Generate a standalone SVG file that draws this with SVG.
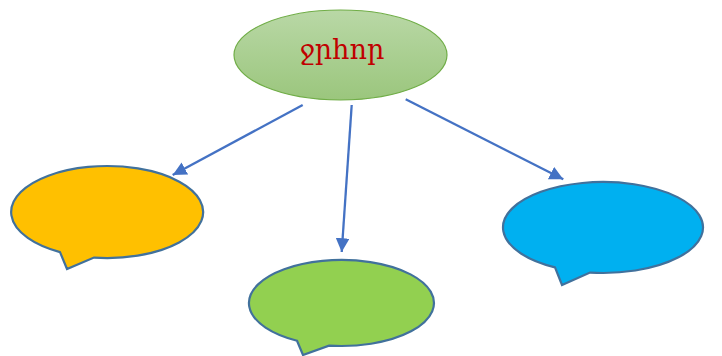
<svg xmlns="http://www.w3.org/2000/svg" width="722" height="356" viewBox="0 0 722 356">
<style>
.conn{stroke:#4472c4;stroke-width:2.3;fill:none;marker-end:url(#ah)}
.bubble{stroke:#41719c;stroke-width:2.2;stroke-linejoin:miter}
.title{font-family:"DejaVu Serif","Liberation Serif",serif;font-size:27px;fill:#c00000;text-anchor:middle}
</style>
<defs>
<linearGradient id="g1" x1="0" y1="0" x2="0" y2="1">
<stop offset="0" stop-color="#b9d8a6"/>
<stop offset="1" stop-color="#9bc67d"/>
</linearGradient>
<marker id="ah" viewBox="0 0 10 10" refX="10" refY="5" markerWidth="6" markerHeight="6" orient="auto" markerUnits="strokeWidth">
<path d="M0,0 L10,5 L0,10 z" fill="#4472c4"/>
</marker>
</defs>
<g id="connectors">
<line class="conn" x1="302.7" y1="105" x2="172.7" y2="175"/>
<line class="conn" x1="351.7" y1="105" x2="341.7" y2="252"/>
<line class="conn" x1="405.7" y1="99.3" x2="563.3" y2="179.3"/>
</g>
<g id="top">
<ellipse cx="340.5" cy="55" rx="106.5" ry="45" fill="url(#g1)" stroke="#70ad47" stroke-width="1.2"/>
<text class="title" x="342" y="59">ջրհոր</text>
</g>
<g id="yellow">
<path class="bubble" fill="#ffc000" d="M60,252.1 L67,269 L94,257.6 A96 46 0 1 0 60,252.1 Z"/>
</g>
<g id="green">
<path class="bubble" fill="#92d050" d="M297,340.7 L303,355 L329,345.6 A92.5 43 0 1 0 297,340.7 Z"/>
</g>
<g id="blue">
<path class="bubble" fill="#00b0f0" d="M555,267.4 L562,285 L590,272.6 A100 45.5 0 1 0 555,267.4 Z"/>
</g>
</svg>
